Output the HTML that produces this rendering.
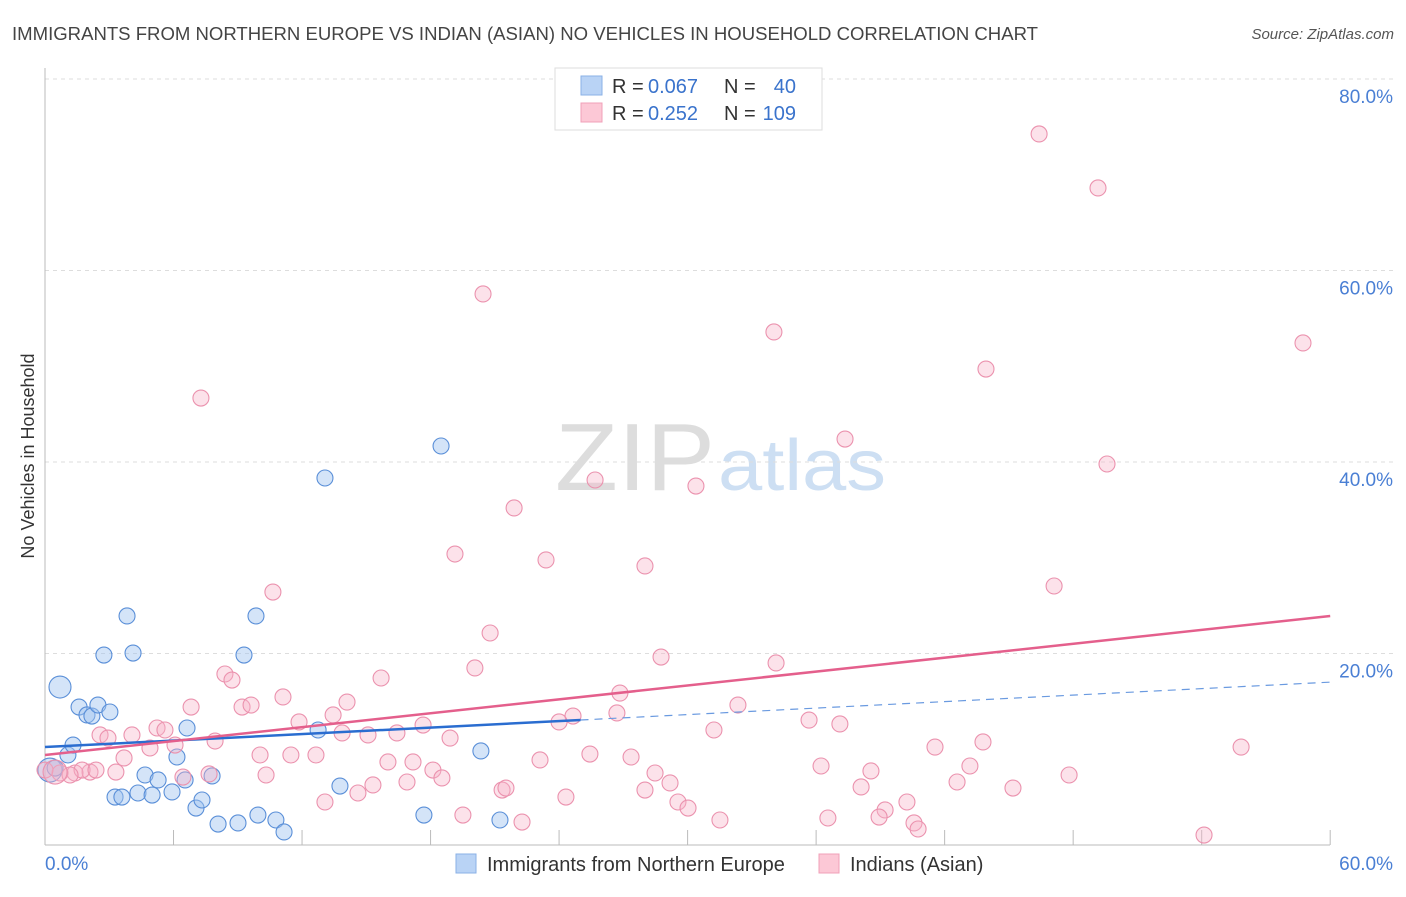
<!DOCTYPE html>
<html><head><meta charset="utf-8"><style>
body{margin:0;background:#fff;font-family:"Liberation Sans",sans-serif;}
svg text{font-family:"Liberation Sans",sans-serif;}
</style></head><body>
<svg id="c" width="1406" height="892" xmlns="http://www.w3.org/2000/svg">
<text x="12" y="40" font-size="18" fill="#444" textLength="1026" lengthAdjust="spacingAndGlyphs">IMMIGRANTS FROM NORTHERN EUROPE VS INDIAN (ASIAN) NO VEHICLES IN HOUSEHOLD CORRELATION CHART</text>
<text x="1394" y="39" font-size="15" fill="#555" text-anchor="end" font-style="italic">Source: ZipAtlas.com</text>
<text x="555" y="490" font-size="96" fill="#ddd" textLength="160" lengthAdjust="spacingAndGlyphs" font-family="Liberation Serif">ZIP</text>
<text x="718" y="490" font-size="72" fill="#cddff3" textLength="168" lengthAdjust="spacingAndGlyphs">atlas</text>
<text transform="translate(34,456) rotate(-90)" font-size="18" fill="#333" text-anchor="middle">No Vehicles in Household</text>
<g id="grid"></g><g id="marks"></g>
<g>
<rect x="555" y="68" width="267" height="62" fill="#fff" stroke="#ddd"/>
<rect x="581" y="76" width="21" height="19" fill="#b9d3f5" stroke="#8ab0e6"/>
<rect x="581" y="103" width="21" height="19" fill="#fcc8d6" stroke="#f0a0b8"/>
<text x="612" y="93" font-size="20" fill="#333">R =</text>
<text x="648" y="93" font-size="20" fill="#3a73cc">0.067</text>
<text x="724" y="93" font-size="20" fill="#333">N =</text>
<text x="796" y="93" font-size="20" fill="#3a73cc" text-anchor="end">40</text>
<text x="612" y="120" font-size="20" fill="#333">R =</text>
<text x="648" y="120" font-size="20" fill="#3a73cc">0.252</text>
<text x="724" y="120" font-size="20" fill="#333">N =</text>
<text x="796" y="120" font-size="20" fill="#3a73cc" text-anchor="end">109</text>
</g>
<g>
<rect x="456" y="854" width="20" height="19" fill="#b9d3f5" stroke="#8ab0e6"/>
<text x="487" y="871" font-size="20" fill="#333">Immigrants from Northern Europe</text>
<rect x="819" y="854" width="20" height="19" fill="#fcc8d6" stroke="#f0a0b8"/>
<text x="850" y="871" font-size="20" fill="#333">Indians (Asian)</text>
</g>
</svg>
<script>
const yTicks=[20,40,60,80];
const yTickLabels=["20.0%","40.0%","60.0%","80.0%"];
const xTicks=[0,6,12,18,24,30,36,42,48,54,60];
const xTickLabels=["0.0%","60.0%"];
const blueX=[0.70,0.23,0.47,1.07,1.31,1.59,1.96,2.19,2.47,3.03,2.75,3.83,4.11,3.27,3.59,4.34,4.67,5.00,5.28,5.93,6.16,6.54,6.63,7.05,7.33,7.80,8.08,9.01,9.29,9.85,9.94,10.78,11.16,12.75,13.07,13.77,17.69,18.49,20.35,21.24];
const blueY=[16.5,7.83,8.04,9.40,10.44,14.41,13.58,13.47,14.62,13.89,19.84,23.92,20.05,5.01,5.01,5.43,7.31,5.22,6.79,5.54,9.19,6.79,12.22,3.86,4.70,7.21,2.19,2.30,19.84,23.92,3.13,2.61,1.36,12.01,38.33,6.16,3.13,41.67,9.82,2.61];
const blueBig=[11,12];
const pinkX=[46.41,49.16,58.73,34.03,43.93,20.45,7.28,37.35,49.58,25.68,30.39,21.90,19.14,23.39,28.01,47.11,10.64,20.78,20.07,28.76,34.13,8.40,8.73,15.69,11.11,26.84,14.10,6.82,9.20,9.62,32.35,26.70,24.65,13.45,11.86,24.00,35.67,37.11,31.23,2.57,2.94,4.06,5.23,5.60,6.07,4.90,7.94,13.87,15.08,16.43,17.65,18.91,3.69,10.04,11.48,12.65,16.01,17.18,18.11,18.53,23.11,25.44,27.36,41.55,43.79,55.84,28.48,29.18,36.23,38.56,43.18,6.44,7.66,10.32,15.31,16.90,21.34,21.52,24.32,28.01,29.55,30.02,38.10,39.22,38.94,40.24,42.58,45.19,47.81,13.07,14.61,19.51,22.27,31.51,36.55,40.57,40.76,54.11,3.31,2.10,1.40,0.70,0.0,1.73,2.38,1.17,0.47];
const pinkY=[74.26,68.62,52.43,53.58,49.71,57.55,46.68,42.40,39.79,38.12,37.49,35.20,30.39,29.77,29.14,27.05,26.42,22.14,18.49,19.63,19.01,17.86,17.23,17.44,15.46,15.87,14.93,14.41,14.41,14.62,14.62,13.79,13.47,13.58,12.85,12.85,13.05,12.64,12.01,11.49,11.17,11.49,12.22,12.01,10.44,10.13,10.86,11.70,11.49,11.70,12.53,11.17,9.09,9.40,9.40,9.40,8.67,8.67,7.83,7.00,8.88,9.50,9.19,10.23,10.76,10.23,7.52,6.48,8.25,7.73,8.25,7.10,7.42,7.31,6.27,6.58,5.74,5.95,5.01,5.74,4.49,3.86,6.06,3.66,2.92,4.49,6.58,5.95,7.31,4.49,5.43,3.13,2.40,2.61,2.82,2.30,1.67,1.04,7.62,7.62,7.52,7.52,7.83,7.83,7.83,7.31,7.62];
const blueLine=[10.23,0.113,25];
const pinkLine=[9.40,0.242];
const X=v=>45+v*21.42, Y=v=>845-v*9.575;
const NS="http://www.w3.org/2000/svg";
function mk(p,t,a){const e=document.createElementNS(NS,t);for(const k in a)e.setAttribute(k,a[k]);p.appendChild(e);return e;}
const g=document.getElementById('grid'), m=document.getElementById('marks');
yTicks.forEach((t,i)=>{
 const l=mk(g,'line',{x1:45,x2:1395,y1:Y(t),y2:Y(t),stroke:'#ddd','stroke-dasharray':'4,4'});
 
 
 const tx=mk(g,'text',{x:1393,y:Y(t)+24,'font-size':19,fill:'#4a7fd4','text-anchor':'end'});
 tx.textContent=yTickLabels[i];
 
 
});
mk(g,'line',{x1:45,x2:45,y1:68,y2:845,stroke:'#bbb'});
mk(g,'line',{x1:45,x2:1330,y1:845,y2:845,stroke:'#bbb'});
xTicks.forEach(t=>{const l=mk(g,'line',{x1:X(t),x2:X(t),y1:830,y2:845,stroke:'#bbb'});
 
 });
[[0,'start',45],[60,'end',1393]].forEach((d,i)=>{const tx=mk(g,'text',{x:d[2],y:870,'font-size':19,fill:'#4a7fd4','text-anchor':d[1]});tx.textContent=xTickLabels[i];
 
 });
blueX.forEach((x,i)=>{const r=i<2?blueBig[i]:8;const c=mk(m,'circle',{cx:X(x),cy:Y(blueY[i]),r:r,fill:'rgba(160,196,240,0.45)',stroke:'#5a8fd8','stroke-width':1.1});
 
 });
pinkX.forEach((x,i)=>{const r=i==pinkX.length-1?12:8;const c=mk(m,'circle',{cx:X(x),cy:Y(pinkY[i]),r:r,fill:'rgba(248,180,200,0.38)',stroke:'#eb92ae','stroke-width':1.1});
 
 });
let l=mk(m,'line',{x1:X(0),y1:Y(blueLine[0]),x2:X(blueLine[2]),y2:Y(blueLine[0]+blueLine[1]*blueLine[2]),stroke:'#2a6dd0','stroke-width':2.5});


l=mk(m,'line',{x1:X(blueLine[2]),y1:Y(blueLine[0]+blueLine[1]*blueLine[2]),x2:X(60),y2:Y(blueLine[0]+blueLine[1]*60),stroke:'#6a9ae0','stroke-width':1.2,'stroke-dasharray':'8,6'});


l=mk(m,'line',{x1:X(0),y1:Y(pinkLine[0]),x2:X(60),y2:Y(pinkLine[0]+pinkLine[1]*60),stroke:'#e45f8c','stroke-width':2.5});


</script>
</body></html>
